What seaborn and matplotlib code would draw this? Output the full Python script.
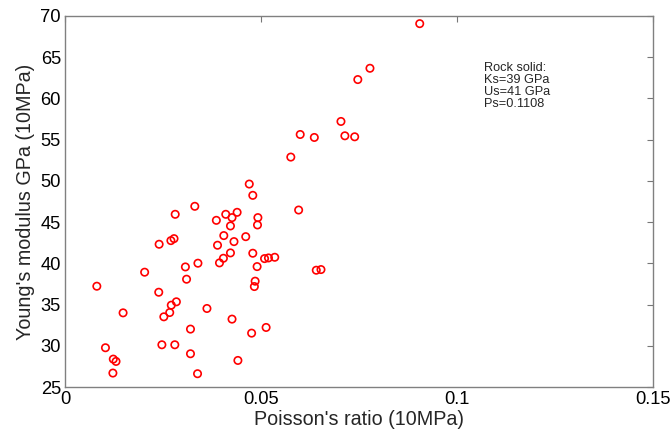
import matplotlib
matplotlib.use("Agg")
import matplotlib.pyplot as plt
import seaborn as sns
import pandas as pd

poisson = [0.0905, 0.0778, 0.0747, 0.0704, 0.0600, 0.0636, 0.0714, 0.0739, 0.0576,
           0.0470, 0.0479, 0.0596, 0.0331, 0.0281, 0.0410, 0.0439, 0.0426, 0.0492,
           0.0386, 0.0422, 0.0491, 0.0405, 0.0461, 0.0278, 0.0270, 0.0431, 0.0240,
           0.0389, 0.0422, 0.0479, 0.0404, 0.0509, 0.0519, 0.0535, 0.0339, 0.0394,
           0.0307, 0.0490, 0.0641, 0.0653, 0.0203, 0.0310, 0.0485, 0.0483, 0.0081,
           0.0239, 0.0284, 0.0271, 0.0362, 0.0148, 0.0267, 0.0252, 0.0426, 0.0320,
           0.0513, 0.0476, 0.0103, 0.0247, 0.0280, 0.0320, 0.0123, 0.0130, 0.0441,
           0.0122, 0.0338]
youngs = [69.07, 63.66, 62.29, 57.21, 55.63, 55.27, 55.47, 55.35, 52.89,
          49.62, 48.25, 46.47, 46.92, 45.95, 45.95, 46.19, 45.55, 45.55,
          45.22, 44.54, 44.66, 43.37, 43.24, 43.00, 42.76, 42.64, 42.32,
          42.20, 41.27, 41.23, 40.62, 40.58, 40.66, 40.74, 40.02, 40.06,
          39.57, 39.61, 39.17, 39.25, 38.93, 38.08, 37.84, 37.19, 37.23,
          36.50, 35.34, 34.93, 34.53, 34.00, 34.04, 33.52, 33.24, 32.03,
          32.23, 31.54, 29.77, 30.13, 30.13, 29.04, 28.39, 28.11, 28.23,
          26.70, 26.62]
x_ticks = [0, 0.05, 0.1, 0.15]
x_tick_labels = ["0", "0.05", "0.1", "0.15"]
y_ticks = [25, 30, 35, 40, 45, 50, 55, 60, 65, 70]
note_lines = ["Rock solid:", "Ks=39 GPa", "Us=41 GPa", "Ps=0.1108"]

sns.set_style("white")
plt.rcParams["font.family"] = ["Liberation Sans", "DejaVu Sans"]

df = pd.DataFrame({"poisson": poisson, "youngs": youngs})

fig = plt.figure(figsize=(6.71, 4.32), dpi=100)
ax = fig.add_axes([0.097, 0.104, 0.876, 0.859])
sns.scatterplot(data=df, x="poisson", y="youngs", ax=ax, marker="o", s=28,
                facecolor="none", edgecolor="#ff0000", linewidth=1.2)

ax.set_xlim(0, 0.15)
ax.set_ylim(25, 70)
ax.set_xticks(x_ticks)
ax.set_xticklabels(x_tick_labels)
ax.set_yticks(y_ticks)
ax.tick_params(direction="in", length=4, width=0.8, top=True, right=True,
               labelsize=13.2, color="#777777", pad=3, labelcolor="black")
for s in ax.spines.values():
    s.set_visible(True)
    s.set_color("#808080")
    s.set_linewidth(1.0)
ax.set_xlabel("Poisson's ratio (10MPa)", fontsize=14.2, labelpad=1)
ax.set_ylabel("Young's modulus GPa (10MPa)", fontsize=14.2, labelpad=4)
ax.text(0.1068, 64.4, "\n".join(note_lines), fontsize=9.2, va="top", ha="left",
        linespacing=1.0)

fig.savefig("out.png", dpi=100)
